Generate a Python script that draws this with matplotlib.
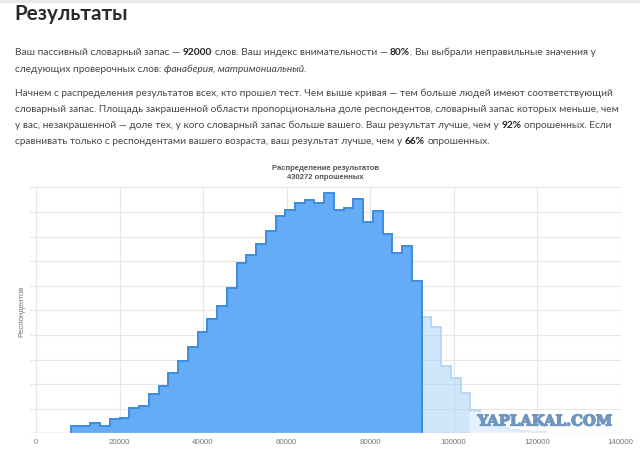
import numpy as np
import matplotlib
matplotlib.use("Agg")
import matplotlib.pyplot as plt
import matplotlib.patheffects as pe
from matplotlib.patches import Rectangle

W, H, DPI = 640, 452, 100

# ---------------- data ----------------
bin_start = 8380
bin_width = 2333
counts_below = [0.28, 0.31, 0.41, 0.31, 0.57, 0.62, 1.04, 1.12, 1.61, 1.92,
                2.47, 2.93, 3.52, 4.13, 4.66, 5.18, 5.92, 6.91, 7.24, 7.68,
                8.22, 8.83, 9.09, 9.36, 9.50, 9.35, 9.78, 9.08, 9.15, 9.51,
                8.60, 9.04, 8.10, 7.32, 7.62, 6.18]
counts_above = [4.73, 4.31, 2.72, 2.24, 1.65, 0.95, 0.60, 0.35, 0.22, 0.15,
                0.10, 0.07, 0.05]
x_ticks = [0, 20000, 40000, 60000, 80000, 100000, 120000, 140000]
x_tick_labels = ["0", "20000", "40000", "60000", "80000", "100000", "120000", "140000"]

page_title = "Результаты"
chart_title = ["Распределение результатов", "430272 опрошенных"]
y_label = "Респондентов"
watermark = "YAPLAKAL.COM"

N, B, I = "normal", "bold", "italic"
paragraph_lines = [
    [("Ваш пассивный словарный запас — ", N), ("92000", B),
     (" слов. Ваш индекс внимательности — ", N), ("80%", B),
     (". Вы выбрали неправильные значения у", N)],
    [("следующих проверочных слов: ", N), ("фанаберия, матримониальный.", I)],
    [("Начнем с распределения результатов всех, кто прошел тест. Чем выше кривая — тем больше людей имеют соответствующий", N)],
    [("словарный запас. Площадь закрашенной области пропорциональна доле респондентов, словарный запас которых меньше, чем", N)],
    [("у вас, незакрашенной — доле тех, у кого словарный запас больше вашего. Ваш результат лучше, чем у ", N), ("92%", B),
     (" опрошенных. Если", N)],
    [("сравнивать только с респондентами вашего возраста, ваш результат лучше, чем у ", N), ("66%", B),
     (" опрошенных.", N)],
]
line_y = [52, 68, 93, 109, 125, 141]

# ---------------- figure ----------------
fig = plt.figure(figsize=(W / DPI, H / DPI), dpi=DPI)
fig.patch.set_facecolor("white")
renderer = fig.canvas.get_renderer()


def fx(x):
    return x / W


def fy(y):
    return 1 - y / H


def twidth(s, **kw):
    t = fig.text(0, 0, s, **kw)
    w = t.get_window_extent(renderer).width
    t.remove()
    return w


def fit_size(s, target, **kw):
    return 10 * target / twidth(s, fontsize=10, **kw)


# top grey strip
fig.patches.append(Rectangle((0, fy(3)), 1, 3 / H, transform=fig.transFigure,
                             color="#e9e9e9", zorder=0))

# page title
tfam = "Lato"
tfs = fit_size(page_title, 113, family=tfam, weight="bold")
fig.text(fx(14), fy(20.5), page_title, family=tfam, weight="bold", fontsize=tfs,
         color="#2a2a2a", va="baseline", ha="left")

# paragraph
pfam = "Lato"
pfs = fit_size(paragraph_lines[3][0][0], 607, family=pfam)
sp = twidth("a a", fontsize=pfs, family=pfam) - twidth("aa", fontsize=pfs, family=pfam)
for runs, y in zip(paragraph_lines, line_y):
    x = 15
    for s, st in runs:
        kw = dict(fontsize=pfs, family=pfam, va="baseline", ha="left")
        if st == B:
            kw.update(weight="bold", color="#222222")
        elif st == I:
            kw.update(style="italic", color="#444444")
        else:
            kw.update(color="#474747")
        lead = len(s) - len(s.lstrip(" "))
        trail = len(s) - len(s.rstrip(" "))
        x += lead * sp
        t = fig.text(fx(x), fy(y + 3.5), s.strip(" "), **kw)
        x += t.get_window_extent(renderer).width + trail * sp

# ---------------- chart ----------------
ax_l, ax_r, ax_t, ax_b = 30, 620.5, 188.3, 434.3
ax = fig.add_axes([fx(ax_l), fy(ax_b), (ax_r - ax_l) / W, (ax_b - ax_t) / H])
x0_px = 36
x_left = -(x0_px - ax_l) * 140000 / (ax_r - x0_px)
ax.set_xlim(x_left, 140000)
ax.set_ylim(0, 10)
for s in ax.spines.values():
    s.set_visible(False)
ax.set_xticks([])
ax.set_yticks([])
ax.patch.set_alpha(0)

grid_c = "#e6e6e6"
for yv in range(1, 11):
    ax.axhline(yv, color=grid_c, lw=0.8, zorder=0)
for xv in x_ticks:
    ax.axvline(xv, color=grid_c, lw=0.8, zorder=0)

edges_below = bin_start + bin_width * np.arange(len(counts_below) + 1)
edges_above = edges_below[-1] + bin_width * np.arange(len(counts_above) + 1)

ax.stairs(counts_above, edges_above, fill=True, color="#a9d2f8", alpha=0.55,
          baseline=0, zorder=2, lw=0)
ax.stairs(counts_above, edges_above, color="#b2d6f6", lw=1.3, baseline=None, zorder=3)
ax.stairs(counts_below, edges_below, fill=True, color="#5eaaf6", alpha=0.96,
          baseline=0, zorder=2, lw=0)
ax.stairs(counts_below, edges_below, color="#3a8ce2", lw=1.4, baseline=0, zorder=3)

ax.axhline(0, color="#c6c6c6", lw=1.0, zorder=4)

lfam = "Liberation Sans"
tick_fs = fit_size("20000", 22, family=lfam)
tick_y = -(443 - ax_b) / (ax_b - ax_t)
for xv, lab in zip(x_ticks, x_tick_labels):
    ax.text(xv, tick_y, lab, transform=ax.get_xaxis_transform(), ha="center",
            va="center", fontsize=tick_fs, family=lfam, color="#777777")

ct_fs = fit_size(chart_title[0], 107, family=lfam, weight="bold")
fig.text(fx(325), fy(168), chart_title[0], ha="center", va="center",
         fontsize=ct_fs, family=lfam, weight="bold", color="#555555")
fig.text(fx(325), fy(177.5), chart_title[1], ha="center", va="center",
         fontsize=ct_fs, family=lfam, weight="bold", color="#555555")

yl_fs = fit_size(y_label, 52, family=lfam)
fig.text(fx(22), fy(311), y_label, rotation=90, ha="center", va="center",
         fontsize=yl_fs, family=lfam, color="#777777")

# watermark
fig.patches.append(Rectangle((fx(470), fy(433)), 145 / W, 20 / H,
                             transform=fig.transFigure, color="white",
                             alpha=0.45, zorder=5))
wm_fs = fit_size(watermark, 135, family="DejaVu Serif", weight="bold")
fig.text(fx(545), fy(422.5), watermark, ha="center", va="center",
         fontsize=wm_fs, family="DejaVu Serif", weight="bold",
         color="#7096c0", zorder=6,
         path_effects=[pe.withStroke(linewidth=1.0, foreground="#7096c0")])

fig.savefig("out.png", dpi=DPI, facecolor="white")
